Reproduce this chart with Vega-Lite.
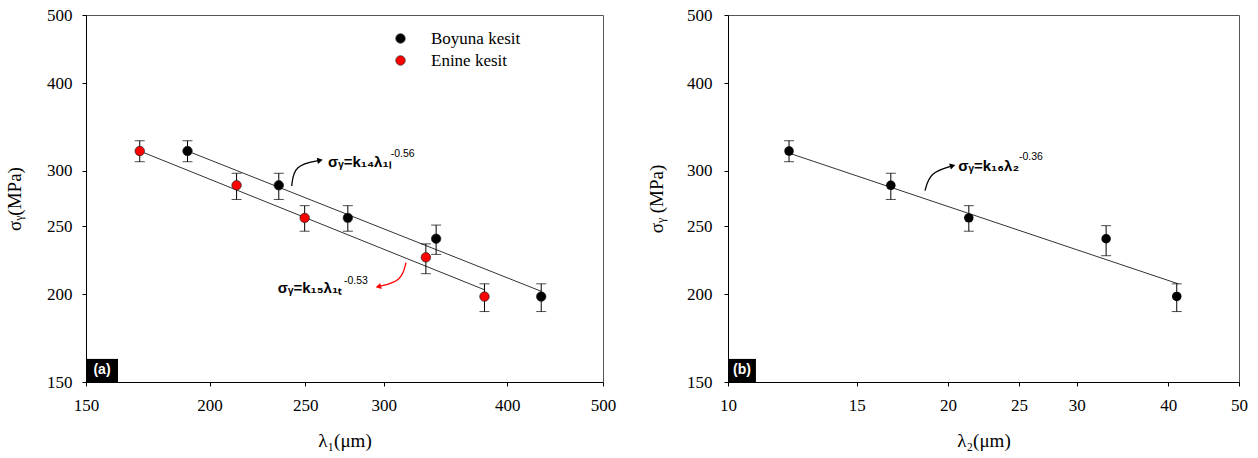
{
  "$schema": "https://vega.github.io/schema/vega-lite/v6.json",
  "padding": {"left": 5, "top": 5, "right": 0, "bottom": 0},
  "background": "white",
  "spacing": 125,
  "bounds": "flush",
  "datasets": {
    "a_pts": [
      {"x": 190, "y": 320, "lo": 309, "hi": 331, "series": "Boyuna kesit"},
      {"x": 235, "y": 286, "lo": 273, "hi": 297.5, "series": "Boyuna kesit"},
      {"x": 276, "y": 257, "lo": 246, "hi": 267.5, "series": "Boyuna kesit"},
      {"x": 339, "y": 240, "lo": 228, "hi": 251, "series": "Boyuna kesit"},
      {"x": 433, "y": 198.5, "lo": 189, "hi": 207, "series": "Boyuna kesit"},
      {"x": 170, "y": 320, "lo": 309, "hi": 331, "series": "Enine kesit"},
      {"x": 213, "y": 286, "lo": 273, "hi": 297.5, "series": "Enine kesit"},
      {"x": 249.6, "y": 257, "lo": 246, "hi": 267.5, "series": "Enine kesit"},
      {"x": 331, "y": 225.8, "lo": 214, "hi": 236, "series": "Enine kesit"},
      {"x": 379.4, "y": 198.5, "lo": 189, "hi": 207, "series": "Enine kesit"}
    ],
    "a_fit": [
      {"x": 190, "y": 320, "series": "Boyuna kesit"},
      {"x": 433, "y": 202, "series": "Boyuna kesit"},
      {"x": 170, "y": 320, "series": "Enine kesit"},
      {"x": 379.4, "y": 203, "series": "Enine kesit"}
    ],
    "b_pts": [
      {"x": 12.12, "y": 320, "lo": 309, "hi": 331},
      {"x": 16.7, "y": 286, "lo": 273, "hi": 297.5},
      {"x": 21.35, "y": 257, "lo": 246, "hi": 267.5},
      {"x": 32.9, "y": 240, "lo": 227, "hi": 250.5},
      {"x": 41.1, "y": 198.6, "lo": 189, "hi": 207}
    ],
    "b_fit": [
      {"x": 12.1, "y": 318},
      {"x": 41.3, "y": 207}
    ],
    "a_arrow_k": [
      {"i": 0, "x": 242.2, "y": 285.3},
      {"i": 1, "x": 243.5, "y": 305.7},
      {"i": 2, "x": 258.7, "y": 310.4}
    ],
    "a_arrow_r": [
      {"i": 0, "x": 316, "y": 221.9},
      {"i": 1, "x": 312.9, "y": 208.9},
      {"i": 2, "x": 296.3, "y": 205.1}
    ],
    "b_arrow": [
      {"i": 0, "x": 18.6, "y": 281},
      {"i": 1, "x": 18.89, "y": 298.5},
      {"i": 2, "x": 20.29, "y": 305}
    ],
    "a_eq": [
      {"x": 263.5, "y": 309, "t": "σᵧ=k₁₄λ₁ₗ"},
      {"x": 234.4, "y": 204.4, "t": "σᵧ=k₁₅λ₁ₜ"}
    ],
    "a_sup": [
      {"x": 305, "y": 316.9, "t": "-0.56"},
      {"x": 273.5, "y": 208.9, "t": "-0.53"}
    ],
    "b_eq": [{"x": 20.65, "y": 305, "t": "σᵧ=k₁₆λ₂"}],
    "b_sup": [{"x": 25.0, "y": 313.5, "t": "-0.36"}]
  },
  "config": {
    "view": {"stroke": "#555", "strokeWidth": 1},
    "axis": {
      "grid": false,
      "labelFont": "Liberation Serif",
      "labelFontSize": 17,
      "labelColor": "#000",
      "titleFont": "Liberation Serif",
      "titleFontSize": 19,
      "titleFontWeight": "normal",
      "titleColor": "#000",
      "domainColor": "#000",
      "tickColor": "#000",
      "tickSize": 4,
      "labelFlush": false,
      "labelOverlap": false
    }
  },
  "hconcat": [
    {
      "width": 517,
      "height": 367,
      "layer": [
        {
          "data": {"name": "a_fit"},
          "mark": {"type": "line", "color": "#333", "strokeWidth": 1},
          "encoding": {
            "x": {"field": "x", "type": "quantitative",
                  "scale": {"type": "log", "domain": [150, 500], "nice": false},
                  "axis": {"title": "λ₁(μm)", "values": [150, 200, 250, 300, 400, 500], "format": "d", "labelPadding": 11, "titlePadding": 18}},
            "y": {"field": "y", "type": "quantitative",
                  "scale": {"type": "log", "domain": [150, 500], "nice": false},
                  "axis": {"title": "σᵧ(MPa)", "values": [150, 200, 250, 300, 400, 500], "format": "d", "labelPadding": 10, "titlePadding": 22}},
            "detail": {"field": "series"}
          }
        },
        {
          "data": {"name": "a_pts"},
          "mark": {"type": "rule", "color": "#000", "strokeWidth": 1},
          "encoding": {
            "x": {"field": "x", "type": "quantitative", "title": "λ₁(μm)"},
            "y": {"field": "lo", "type": "quantitative", "title": "σᵧ(MPa)"},
            "y2": {"field": "hi"}
          }
        },
        {
          "data": {"name": "a_pts"},
          "mark": {"type": "tick", "orient": "horizontal", "size": 10, "thickness": 1, "color": "#000"},
          "encoding": {
            "x": {"field": "x", "type": "quantitative", "title": "λ₁(μm)"},
            "y": {"field": "lo", "type": "quantitative", "title": "σᵧ(MPa)"}
          }
        },
        {
          "data": {"name": "a_pts"},
          "mark": {"type": "tick", "orient": "horizontal", "size": 10, "thickness": 1, "color": "#000"},
          "encoding": {
            "x": {"field": "x", "type": "quantitative", "title": "λ₁(μm)"},
            "y": {"field": "hi", "type": "quantitative", "title": "σᵧ(MPa)"}
          }
        },
        {
          "data": {"name": "a_pts"},
          "mark": {"type": "point", "shape": "circle", "filled": true, "size": 90, "opacity": 1, "stroke": "#222", "strokeWidth": 0.7},
          "encoding": {
            "x": {"field": "x", "type": "quantitative", "title": "λ₁(μm)"},
            "y": {"field": "y", "type": "quantitative", "title": "σᵧ(MPa)"},
            "color": {
              "field": "series", "type": "nominal",
              "scale": {"domain": ["Boyuna kesit", "Enine kesit"], "range": ["#000000", "#ff0000"]},
              "legend": {
                "title": null, "orient": "none", "legendX": 306, "legendY": 15,
                "padding": 0, "labelFont": "Liberation Serif", "labelFontSize": 17,
                "labelColor": "#000", "symbolType": "circle", "symbolSize": 90,
                "symbolStrokeColor": "#222", "symbolStrokeWidth": 0.7,
                "labelOffset": 22, "rowPadding": 4
              }
            }
          }
        },
        {
          "data": {"name": "a_arrow_k"},
          "mark": {"type": "line", "interpolate": "basis", "color": "#000", "strokeWidth": 1.3},
          "encoding": {
            "x": {"field": "x", "type": "quantitative"},
            "y": {"field": "y", "type": "quantitative"},
            "order": {"field": "i"}
          }
        },
        {
          "data": {"name": "a_arrow_k"},
          "transform": [{"filter": "datum.i == 2"}],
          "mark": {"type": "point", "shape": "triangle-right", "filled": true, "size": 40, "color": "#000", "opacity": 1, "angle": 350},
          "encoding": {
            "x": {"field": "x", "type": "quantitative"},
            "y": {"field": "y", "type": "quantitative"}
          }
        },
        {
          "data": {"name": "a_arrow_r"},
          "mark": {"type": "line", "interpolate": "basis", "color": "#ff0000", "strokeWidth": 1.3},
          "encoding": {
            "x": {"field": "x", "type": "quantitative"},
            "y": {"field": "y", "type": "quantitative"},
            "order": {"field": "i"}
          }
        },
        {
          "data": {"name": "a_arrow_r"},
          "transform": [{"filter": "datum.i == 2"}],
          "mark": {"type": "point", "shape": "triangle-left", "filled": true, "size": 40, "color": "#ff0000", "opacity": 1, "angle": 346},
          "encoding": {
            "x": {"field": "x", "type": "quantitative"},
            "y": {"field": "y", "type": "quantitative"}
          }
        },
        {
          "data": {"name": "a_eq"},
          "mark": {"type": "text", "align": "left", "baseline": "middle", "font": "Liberation Sans", "fontWeight": "bold", "fontSize": 15, "color": "#000"},
          "encoding": {
            "x": {"field": "x", "type": "quantitative"},
            "y": {"field": "y", "type": "quantitative"},
            "text": {"field": "t"}
          }
        },
        {
          "data": {"name": "a_sup"},
          "mark": {"type": "text", "align": "left", "baseline": "middle", "font": "Liberation Sans", "fontSize": 10.5, "color": "#000"},
          "encoding": {
            "x": {"field": "x", "type": "quantitative"},
            "y": {"field": "y", "type": "quantitative"},
            "text": {"field": "t"}
          }
        },
        {
          "data": {"values": [{"x": 150, "x2": 161.6, "y": 150, "y2": 161.8}]},
          "mark": {"type": "rect", "color": "#000"},
          "encoding": {
            "x": {"field": "x", "type": "quantitative"},
            "x2": {"field": "x2"},
            "y": {"field": "y", "type": "quantitative"},
            "y2": {"field": "y2"}
          }
        },
        {
          "data": {"values": [{"x": 155.7, "y": 155.8, "t": "(a)"}]},
          "mark": {"type": "text", "align": "center", "baseline": "middle", "font": "Liberation Sans", "fontWeight": "bold", "fontSize": 14, "color": "#fff"},
          "encoding": {
            "x": {"field": "x", "type": "quantitative"},
            "y": {"field": "y", "type": "quantitative"},
            "text": {"field": "t"}
          }
        }
      ]
    },
    {
      "width": 511,
      "height": 367,
      "layer": [
        {
          "data": {"name": "b_fit"},
          "mark": {"type": "line", "color": "#333", "strokeWidth": 1},
          "encoding": {
            "x": {"field": "x", "type": "quantitative",
                  "scale": {"type": "log", "domain": [10, 50], "nice": false},
                  "axis": {"title": "λ₂(μm)", "values": [10, 15, 20, 25, 30, 40, 50], "format": "d", "labelPadding": 11, "titlePadding": 18}},
            "y": {"field": "y", "type": "quantitative",
                  "scale": {"type": "log", "domain": [150, 500], "nice": false},
                  "axis": {"title": "σᵧ (MPa)", "values": [150, 200, 250, 300, 400, 500], "format": "d", "labelPadding": 12, "titlePadding": 20}}
          }
        },
        {
          "data": {"name": "b_pts"},
          "mark": {"type": "rule", "color": "#000", "strokeWidth": 1},
          "encoding": {
            "x": {"field": "x", "type": "quantitative", "title": "λ₂(μm)"},
            "y": {"field": "lo", "type": "quantitative", "title": "σᵧ (MPa)"},
            "y2": {"field": "hi"}
          }
        },
        {
          "data": {"name": "b_pts"},
          "mark": {"type": "tick", "orient": "horizontal", "size": 10, "thickness": 1, "color": "#000"},
          "encoding": {
            "x": {"field": "x", "type": "quantitative", "title": "λ₂(μm)"},
            "y": {"field": "lo", "type": "quantitative", "title": "σᵧ (MPa)"}
          }
        },
        {
          "data": {"name": "b_pts"},
          "mark": {"type": "tick", "orient": "horizontal", "size": 10, "thickness": 1, "color": "#000"},
          "encoding": {
            "x": {"field": "x", "type": "quantitative", "title": "λ₂(μm)"},
            "y": {"field": "hi", "type": "quantitative", "title": "σᵧ (MPa)"}
          }
        },
        {
          "data": {"name": "b_pts"},
          "mark": {"type": "point", "shape": "circle", "filled": true, "size": 90, "opacity": 1, "color": "#000"},
          "encoding": {
            "x": {"field": "x", "type": "quantitative", "title": "λ₂(μm)"},
            "y": {"field": "y", "type": "quantitative", "title": "σᵧ (MPa)"}
          }
        },
        {
          "data": {"name": "b_arrow"},
          "mark": {"type": "line", "interpolate": "basis", "color": "#000", "strokeWidth": 1.3},
          "encoding": {
            "x": {"field": "x", "type": "quantitative"},
            "y": {"field": "y", "type": "quantitative"},
            "order": {"field": "i"}
          }
        },
        {
          "data": {"name": "b_arrow"},
          "transform": [{"filter": "datum.i == 2"}],
          "mark": {"type": "point", "shape": "triangle-right", "filled": true, "size": 40, "color": "#000", "opacity": 1, "angle": 344},
          "encoding": {
            "x": {"field": "x", "type": "quantitative"},
            "y": {"field": "y", "type": "quantitative"}
          }
        },
        {
          "data": {"name": "b_eq"},
          "mark": {"type": "text", "align": "left", "baseline": "middle", "font": "Liberation Sans", "fontWeight": "bold", "fontSize": 15, "color": "#000"},
          "encoding": {
            "x": {"field": "x", "type": "quantitative"},
            "y": {"field": "y", "type": "quantitative"},
            "text": {"field": "t"}
          }
        },
        {
          "data": {"name": "b_sup"},
          "mark": {"type": "text", "align": "left", "baseline": "middle", "font": "Liberation Sans", "fontSize": 10.5, "color": "#000"},
          "encoding": {
            "x": {"field": "x", "type": "quantitative"},
            "y": {"field": "y", "type": "quantitative"},
            "text": {"field": "t"}
          }
        },
        {
          "data": {"values": [{"x": 10, "x2": 10.92, "y": 150, "y2": 161.8}]},
          "mark": {"type": "rect", "color": "#000"},
          "encoding": {
            "x": {"field": "x", "type": "quantitative"},
            "x2": {"field": "x2"},
            "y": {"field": "y", "type": "quantitative"},
            "y2": {"field": "y2"}
          }
        },
        {
          "data": {"values": [{"x": 10.45, "y": 155.9, "t": "(b)"}]},
          "mark": {"type": "text", "align": "center", "baseline": "middle", "font": "Liberation Sans", "fontWeight": "bold", "fontSize": 14, "color": "#fff"},
          "encoding": {
            "x": {"field": "x", "type": "quantitative"},
            "y": {"field": "y", "type": "quantitative"},
            "text": {"field": "t"}
          }
        }
      ]
    }
  ]
}
